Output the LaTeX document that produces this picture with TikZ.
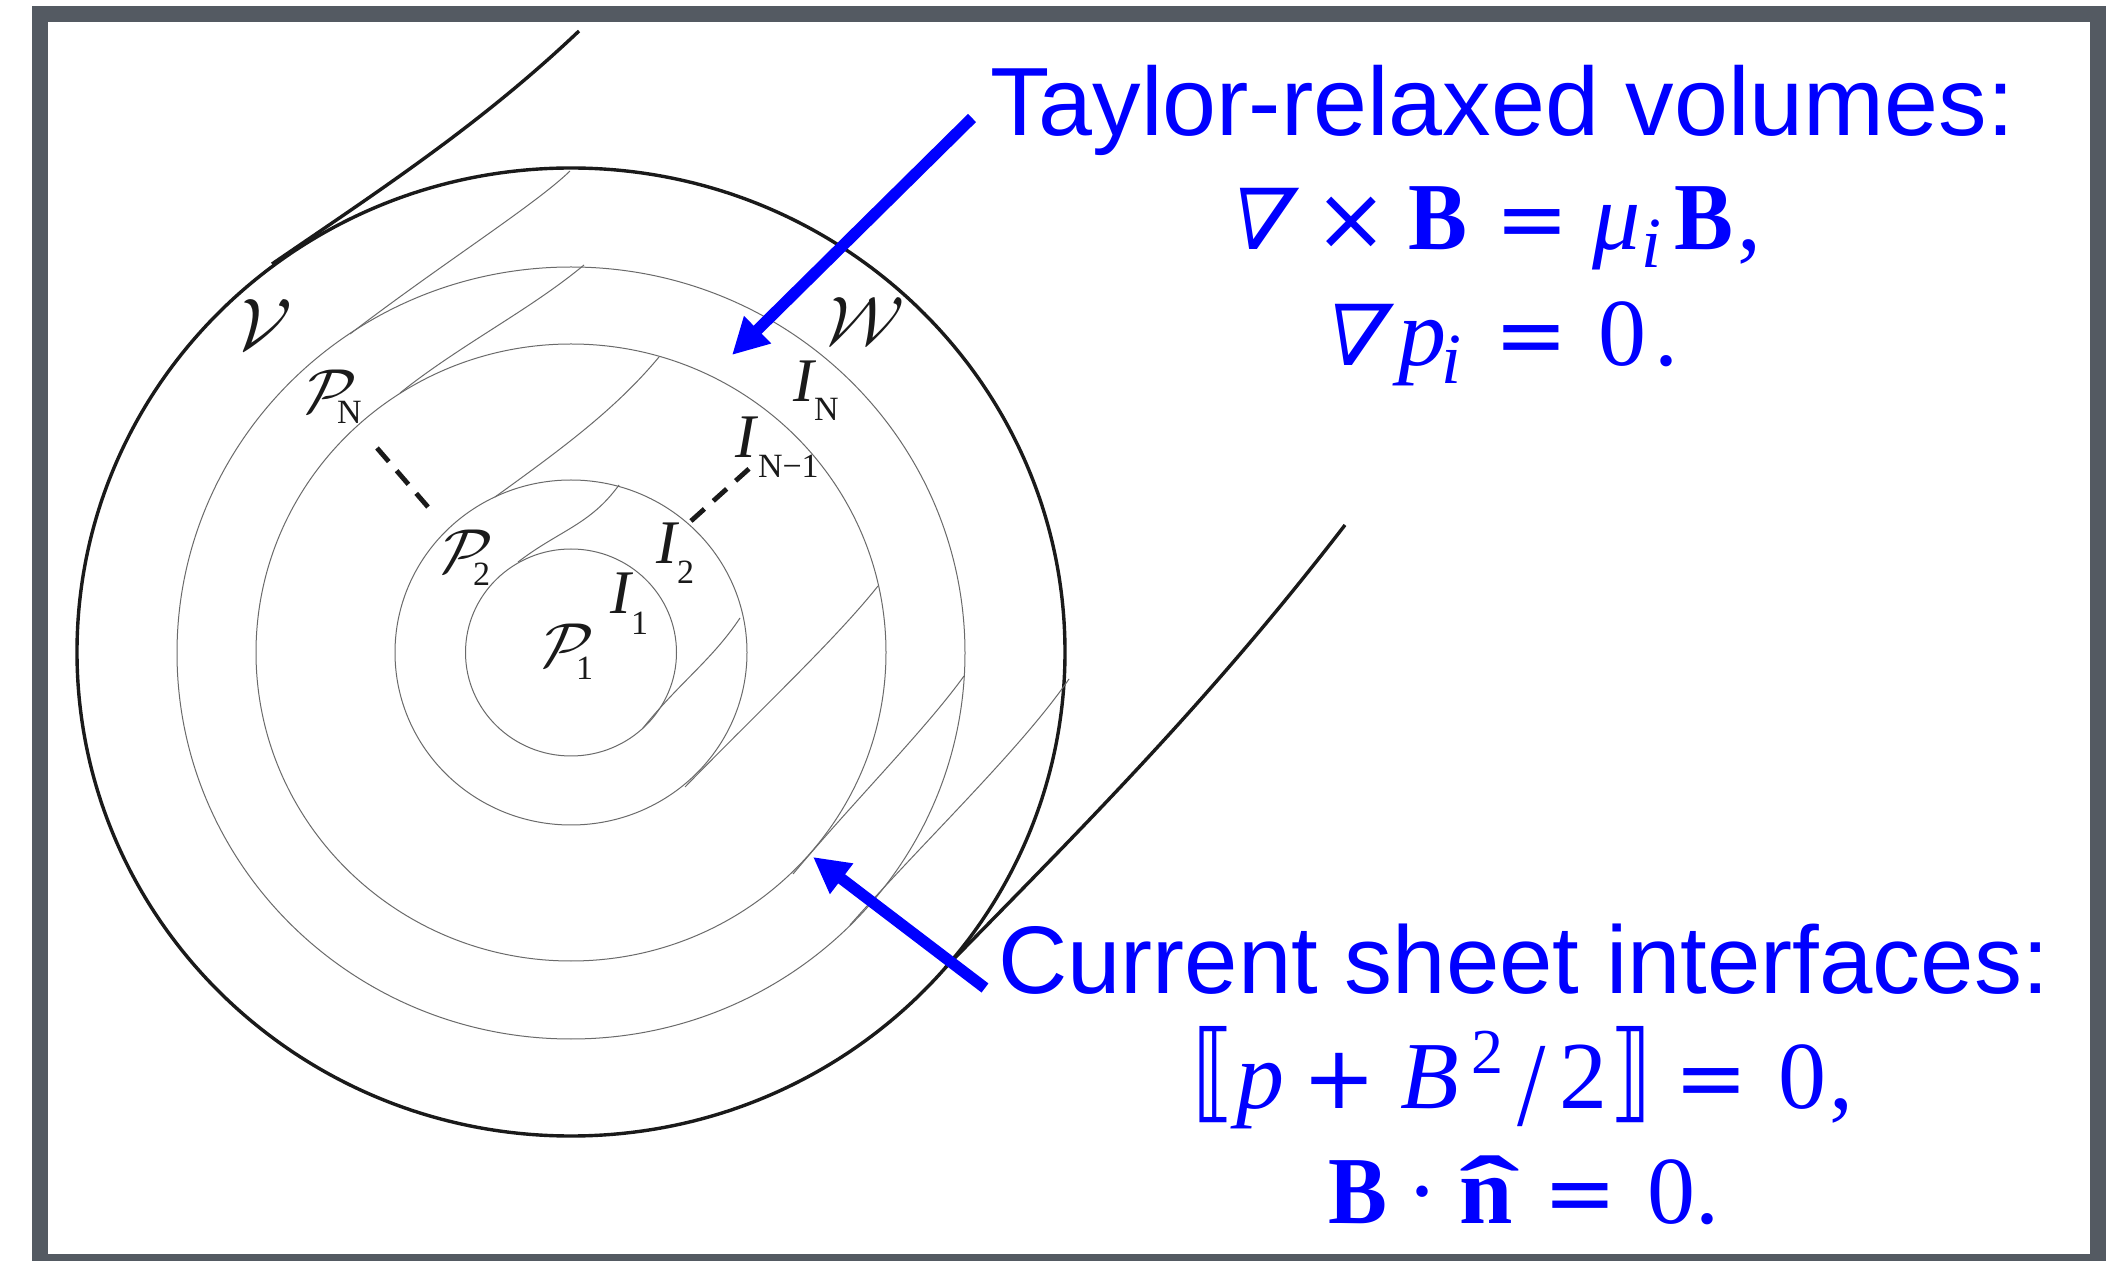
\documentclass[tikz,border=0pt]{standalone}
\usepackage{fontspec}
\usepackage{graphicx}
\usetikzlibrary{arrows.meta}
\setmainfont{Liberation Serif}
\newfontfamily\sansf{Liberation Sans}
\newfontfamily\nabf[FakeSlant=0.27,FakeStretch=1.1]{DejaVu Serif}
\newfontfamily\brkf[FakeStretch=0.8]{DejaVu Sans}
\newfontfamily\opf{DejaVu Sans}
\newfontface\boldB[FakeStretch=0.92]{Liberation Serif Bold}
\definecolor{framegray}{HTML}{545A62}
\definecolor{ink}{HTML}{1A1A1A}
\definecolor{fine}{HTML}{6A6A6A}
\newcommand\Nab{{\nabf\fontsize{42}{42}\selectfont ∇}}
\newcommand\SubI{\raisebox{-9pt}{\fontsize{36}{36}\selectfont\itshape i}}
\newcommand\Hs[1]{\hspace{#1pt}}
\newcommand\Op[1]{{\opf\fontsize{44}{44}\selectfont #1}}
\newcommand\Bb{{\boldB B}}
\newcommand\Cal[1]{$\mathcal{#1}$}
\newcommand\BrkL{{\brkf\fontsize{54}{54}\selectfont ⟦}}
\newcommand\BrkR{{\brkf\fontsize{54}{54}\selectfont ⟧}}
\newcommand\SlantLab[5]{%
  \begin{scope}[shift={(#2,#3)},xslant=0.25]
    \node[lab,transform shape] (#1) at (0,0) {\scalebox{#4}{#5}};
  \end{scope}}
\tikzset{
  bigtext/.style={anchor=base west,inner sep=0pt,outer sep=0pt,text=blue,font=\sansf\fontsize{48}{48}\selectfont},
  mathtext/.style={anchor=base west,inner sep=0pt,outer sep=0pt,text=blue,font=\fontsize{48}{48}\selectfont},
  lab/.style={anchor=base west,inner sep=0pt,outer sep=0pt,text=ink,font=\fontsize{24.88}{24.88}\selectfont},
  ilab/.style={anchor=base west,inner sep=0pt,outer sep=0pt,text=ink,font=\fontsize{31}{31}\selectfont},
  sublab/.style={anchor=base west,inner sep=0pt,outer sep=0pt,text=ink,font=\fontsize{17}{17}\selectfont},
  thick curve/.style={draw=ink,line width=1.7pt},
  fine curve/.style={draw=fine,line width=0.5pt},
  dash link/.style={draw=ink,line width=2.4pt,dash pattern=on 9pt off 6pt},
  blue arrow/.style={draw=blue,line width=5.7pt,-{Triangle[length=18pt,width=18pt]}},
}
\begin{document}
\begin{tikzpicture}[x=0.5pt,y=-0.5pt]
\useasboundingbox (0,0) rectangle (2106,1261);
\fill[white] (0,0) rectangle (2106,1261);
\draw[framegray,line width=8pt,line join=miter] (40,14) rectangle (2098,1262);
% nested surfaces
\draw[thick curve] (571,652) ellipse [x radius=494,y radius=484];
\draw[fine curve] (571,653) ellipse [x radius=394,y radius=386];
\draw[fine curve] (571,652.5) ellipse [x radius=315,y radius=308.5];
\draw[fine curve] (571,652.5) ellipse [x radius=176,y radius=172.5];
\draw[fine curve] (571,652.5) ellipse [x radius=105.5,y radius=103.5];
% outer wall sheets
\draw[thick curve] (579,31) .. controls (480,125) and (380,190) .. (272,264);
\draw[thick curve] (1345,525) .. controls (1210,700) and (1090,820) .. (945,968);
% field lines on the interfaces
\draw[fine curve] (570,171) .. controls (535,205) and (440,265) .. (350,334);
\draw[fine curve] (584,265) .. controls (530,310) and (460,345) .. (400,393);
\draw[fine curve] (659,357) .. controls (615,410) and (560,450) .. (495,497);
\draw[fine curve] (619,485) .. controls (590,525) and (560,530) .. (518,562);
\draw[fine curve] (740,618) .. controls (712,660) and (680,682) .. (643,728);
\draw[fine curve] (878,586) .. controls (835,640) and (760,710) .. (685,787);
\draw[fine curve] (964,676) .. controls (925,730) and (855,800) .. (793,874);
\draw[fine curve] (1069,679) .. controls (1020,750) and (925,840) .. (850,925);
% dashed links
\coordinate (dl1) at (377,448); \coordinate (dl2) at (428,507);
\coordinate (dr1) at (691,521); \coordinate (dr2) at (751,467);
\draw[dash link] (dl1) -- (dl2);
\draw[dash link] (dr1) -- (dr2);
% labels
\SlantLab{lV}{230}{350}{1.47}{\Cal{V}}
\SlantLab{lW}{820}{345}{1.38}{\Cal{W}}
\SlantLab{lPN}{300}{413}{1.25}{\Cal{P}}
\node[sublab] (sPN) at (337,424) {N};
\node[ilab] (lIN) at (793,402) {\textit{I}};
\node[sublab] (sIN) at (814,421) {N};
\node[ilab] (lIN1) at (735,458) {\textit{I}};
\node[sublab] (sIN1) at (758,478) {N−1};
\SlantLab{lP2}{436}{573}{1.25}{\Cal{P}}
\node[sublab] (sP2) at (473,586) {2};
\node[ilab] (lI2) at (656,564) {\textit{I}};
\node[sublab] (sI2) at (677,584) {2};
\node[ilab] (lI1) at (610,614) {\textit{I}};
\node[sublab] (sI1) at (631,635) {1};
\SlantLab{lP1}{537}{667}{1.25}{\Cal{P}}
\node[sublab] (sP1) at (576,680) {1};
% text
\node[bigtext,font=\sansf\fontsize{48.5}{48.5}\selectfont] (t1) at (990,136) {Taylor-relaxed volumes:};
\node[mathtext] (t2) at (1221,250) {\Nab\Hs{14.5}\Op{×}\Hs{10}\Bb\Hs{14}\Op{=}\Hs{12}\textit{μ}\SubI\Hs{6.5}\Bb\Hs{2},};
\node[mathtext] (t3) at (1316,366) {\Nab\Hs{9}\textit{p}\Hs{-2.5}\SubI\Hs{16.5}\Op{=}\Hs{15}0\Hs{4}.};
\node[bigtext] (c1) at (998,993) {Current sheet interfaces:};
\node[mathtext] (c2) at (1192,1108) {\BrkL\Hs{1}\textit{p}\Hs{9}\Op{+}\Hs{12}\textit{B}\Hs{6}\raisebox{17.5pt}{\fontsize{32}{32}\selectfont 2}\Hs{7}\raisebox{-8.5pt}{\scalebox{.85}[1]{\fontsize{60}{60}\selectfont /}}\Hs{7}2\Hs{1}\BrkR\Hs{11}\Op{=}\Hs{15}0\Hs{2},};
\node[mathtext] (c3) at (1328,1223) {\Bb\Hs{10}·\Hs{10.5}\textbf{\rlap{\scalebox{1.9}[1]{ˆ}}n}\Hs{15}\Op{=}\Hs{15}0.};
% arrows
\coordinate (a1) at (972,118); \coordinate (a2) at (732,355);
\coordinate (b1) at (985,988); \coordinate (b2) at (813,857);
\draw[blue arrow] (a1) -- (a2);
\draw[blue arrow] (b1) -- (b2);
\end{tikzpicture}
\end{document}
